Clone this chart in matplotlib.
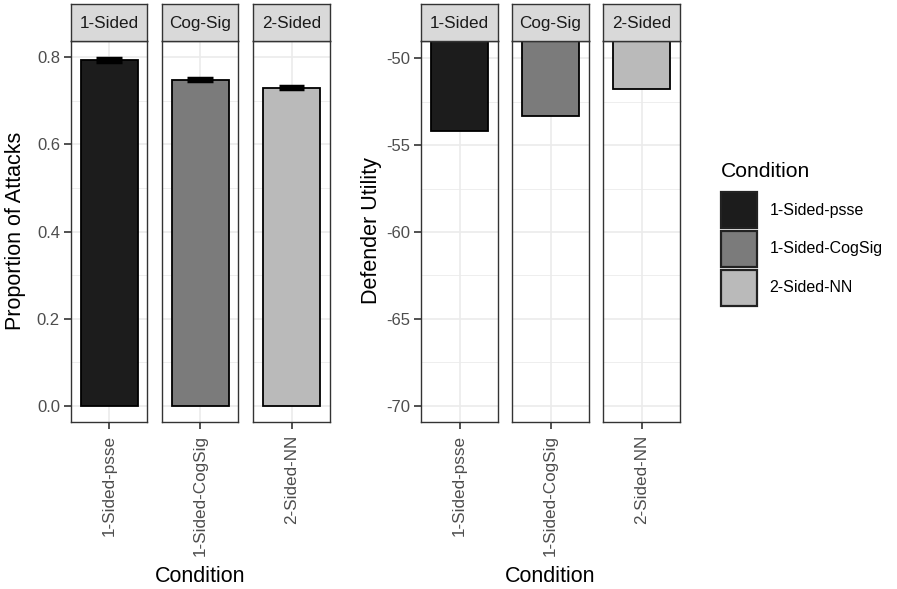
import matplotlib
matplotlib.use("Agg")
import matplotlib.pyplot as plt
from matplotlib.patches import Patch
import numpy as np

plt.rcParams['font.family'] = ['Liberation Sans', 'DejaVu Sans']

conditions = ["1-Sided-psse", "1-Sided-CogSig", "2-Sided-NN"]
strips = ["1-Sided", "Cog-Sig", "2-Sided"]
prop_attacks = [0.793, 0.748, 0.730]
prop_se = [0.004, 0.003, 0.003]
def_utility = [-54.2, -53.35, -51.8]
colors = ["#1c1c1c", "#7b7b7b", "#bababa"]

W, H = 897, 589
fig = plt.figure(figsize=(W / 100, H / 100), dpi=100)

grid_major = "#ebebeb"
border = "#333333"
tick_col = "#4d4d4d"

def px_axes(x0, y0, x1, y1):
    return fig.add_axes([x0 / W, 1 - y1 / H, (x1 - x0) / W, (y1 - y0) / H])

def make_panel(xs, values, ylim, yticks, yminor, ylabels, errs=None, ylabel="", ylabel_x=0):
    axes = []
    for i, (x0, x1) in enumerate(xs):
        ax = px_axes(x0, 41, x1, 422)
        ax.set_xlim(0.4, 1.6)
        ax.set_ylim(*ylim)
        for y in yminor:
            ax.axhline(y, color=grid_major, lw=0.6, zorder=0)
        for y in yticks:
            ax.axhline(y, color=grid_major, lw=1.2, zorder=0)
        ax.axvline(1, color=grid_major, lw=1.2, zorder=0)
        ax.bar([1], [values[i]], width=0.9, color=colors[i], edgecolor="black", lw=1.3, zorder=2)
        if errs is not None:
            ax.errorbar([1], [values[i]], yerr=[errs[i]], fmt="none", ecolor="black",
                        elinewidth=2.5, capsize=0, zorder=3)
            ax.plot([0.8, 1.2], [values[i] + errs[i]] * 2, color="black", lw=2.5, zorder=3, solid_capstyle="butt")
            ax.plot([0.8, 1.2], [values[i] - errs[i]] * 2, color="black", lw=2.5, zorder=3, solid_capstyle="butt")
        ax.set_xticks([1])
        ax.set_xticklabels([conditions[i]], rotation=90, va="top", ha="center",
                           fontsize=12.3, color=tick_col)
        ax.tick_params(axis="x", length=5, width=1.2, color=border, pad=4)
        ax.set_yticks(yticks)
        if i == 0:
            ax.set_yticklabels(ylabels, fontsize=12, color=tick_col)
            ax.tick_params(axis="y", length=5, width=1.2, color=border, pad=3)
        else:
            ax.tick_params(axis="y", left=False, labelleft=False)
        for s in ax.spines.values():
            s.set_color(border)
            s.set_linewidth(1.0)
        # strip
        sax = px_axes(x0, 4, x1, 41)
        sax.set_facecolor("#d9d9d9")
        sax.set_xticks([])
        sax.set_yticks([])
        for s in sax.spines.values():
            s.set_color(border)
            s.set_linewidth(1.0)
        sax.text(0.5, 0.48, strips[i], ha="center", va="center", fontsize=12.3,
                 color="#1a1a1a", transform=sax.transAxes)
        axes.append(ax)
    fig.text(ylabel_x / W, 1 - 231 / H, ylabel, rotation=90, ha="center", va="center",
             fontsize=15.5, color="black")
    cx = (xs[0][0] + xs[-1][1]) / 2
    fig.text(cx / W, 1 - 576 / H, "Condition", ha="center", va="center",
             fontsize=15.5, color="black")
    return axes

make_panel([(71, 147), (162, 238), (253, 330)], prop_attacks, (-0.037, 0.837),
           [0.0, 0.2, 0.4, 0.6, 0.8], [0.1, 0.3, 0.5, 0.7],
           ["0.0", "0.2", "0.4", "0.6", "0.8"], errs=prop_se,
           ylabel="Proportion of Attacks", ylabel_x=16)

make_panel([(421, 498), (512, 589), (603, 680)], def_utility, (-70.93, -49.01),
           [-70, -65, -60, -55, -50], [-67.5, -62.5, -57.5, -52.5],
           ["-70", "-65", "-60", "-55", "-50"], errs=None,
           ylabel="Defender Utility", ylabel_x=371)

handles = [Patch(facecolor=c, edgecolor="#222222", lw=1.6) for c in colors]
leg = fig.legend(handles, conditions, title="Condition", loc="upper left",
                 bbox_to_anchor=(721 / W, 1 - 162 / H), frameon=False,
                 fontsize=11.5, title_fontsize=15.2, handlelength=2.25, handleheight=3.08,
                 labelspacing=0.18, handletextpad=0.8, borderpad=0, borderaxespad=0)
leg._legend_box.align = "left"
leg._legend_box.sep = 8

fig.savefig("out.png", dpi=100)
